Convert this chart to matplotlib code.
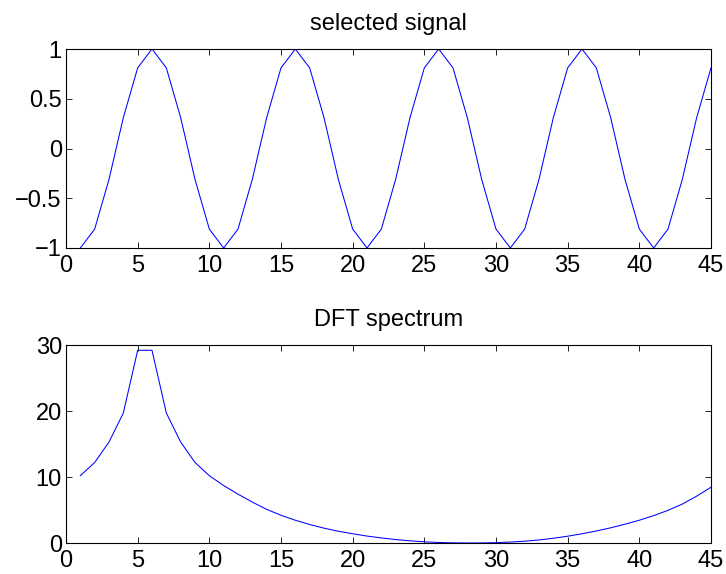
import matplotlib
matplotlib.use("Agg")
from matplotlib import pyplot as plt

# sample index
n = list(range(1, 46))

# selected signal
signal = [-1.0, -0.81, -0.31, 0.31, 0.81, 1.0, 0.81, 0.31, -0.31, -0.81,
          -1.0, -0.81, -0.31, 0.31, 0.81, 1.0, 0.81, 0.31, -0.31, -0.81,
          -1.0, -0.81, -0.31, 0.31, 0.81, 1.0, 0.81, 0.31, -0.31, -0.81,
          -1.0, -0.81, -0.31, 0.31, 0.81, 1.0, 0.81, 0.31, -0.31, -0.81,
          -1.0, -0.81, -0.31, 0.31, 0.81]

# DFT magnitude
spectrum = [10.2, 12.2, 15.3, 19.7, 29.2, 29.2, 19.7, 15.3, 12.2, 10.2,
            8.7, 7.4, 6.2, 5.1, 4.2, 3.45, 2.8, 2.25, 1.78, 1.4,
            1.05, 0.77, 0.52, 0.33, 0.18, 0.08, 0.02, 0.0, 0.01, 0.05,
            0.14, 0.27, 0.46, 0.72, 1.03, 1.4, 1.82, 2.3, 2.85, 3.45,
            4.15, 4.95, 5.9, 7.1, 8.45]

x_ticks = list(range(0, 50, 5))
sig_ticks = [-1, -0.5, 0, 0.5, 1]
sig_labels = ["\u22121", "\u22120.5", "0", "0.5", "1"]
spec_ticks = [0, 10, 20, 30]

plt.rcParams.update({'font.family': ['Liberation Sans', 'DejaVu Sans'],
                     'font.size': 17})

dpi = 100
fig = plt.figure(figsize=(7.26, 5.74), dpi=dpi)

ax1 = fig.add_axes([66 / 726, 1 - 248 / 574, 645 / 726, 199 / 574])
ax2 = fig.add_axes([66 / 726, 1 - 543 / 574, 645 / 726, 198 / 574])


def style(ax):
    ax.tick_params(direction='in', top=True, right=True, length=4.3,
                   width=0.6, labelsize=17)
    ax.tick_params(axis='x', pad=5)
    ax.tick_params(axis='y', pad=3)
    for sp in ax.spines.values():
        sp.set_linewidth(0.8)
    ax.set_xlim(0, 45)
    ax.set_xticks(x_ticks)


ax1.plot(n, signal, color=(0, 0, 1), linewidth=0.75)
style(ax1)
ax1.set_ylim(-1, 1)
ax1.set_yticks(sig_ticks)
ax1.set_yticklabels(sig_labels)
ax1.set_title("selected signal", fontsize=17, pad=14)

ax2.plot(n, spectrum, color=(0, 0, 1), linewidth=0.75)
style(ax2)
ax2.set_ylim(0, 30)
ax2.set_yticks(spec_ticks)
ax2.set_title("DFT spectrum", fontsize=17, pad=14)

fig.savefig("out.png", dpi=dpi)
